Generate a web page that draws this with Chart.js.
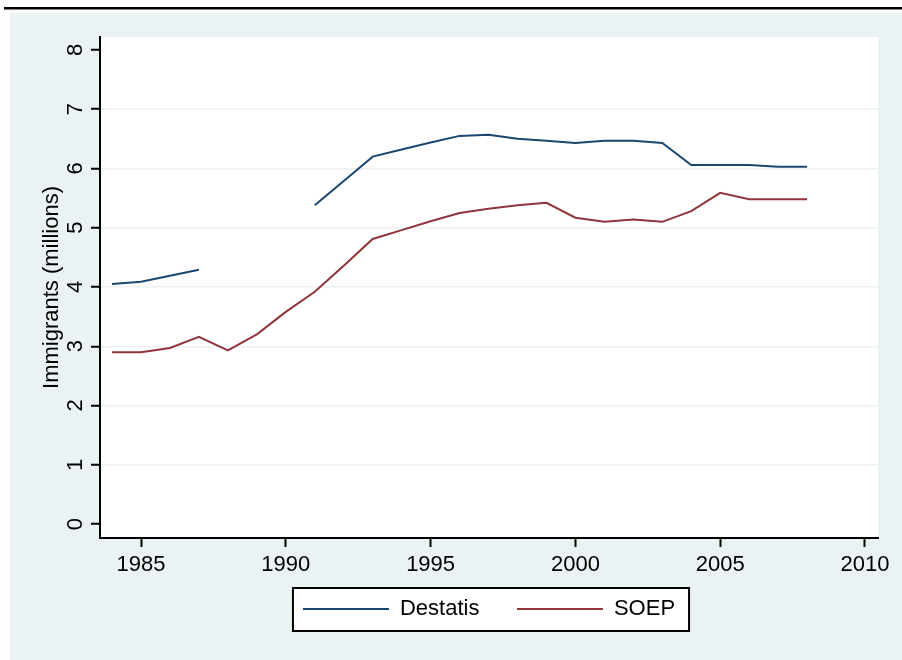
<!DOCTYPE html>
<html>
<head>
<meta charset="utf-8">
<script src="https://cdn.jsdelivr.net/npm/chart.js@4.4.1/dist/chart.umd.min.js"></script>
<style>
  html, body { margin: 0; padding: 0; background: #fff; }
  canvas { display: block; }
</style>
</head>
<body>
<canvas id="chart" width="902" height="660"></canvas>
<script>
// --- Data ---
const years = [1984, 1985, 1986, 1987, 1988, 1989, 1990, 1991, 1992, 1993, 1994, 1995, 1996,
               1997, 1998, 1999, 2000, 2001, 2002, 2003, 2004, 2005, 2006, 2007, 2008];
const destatis = [4.05, 4.09, 4.19, 4.29, null, null, null, 5.38, 5.79, 6.20, 6.32, 6.44, 6.55,
                  6.57, 6.50, 6.47, 6.43, 6.47, 6.47, 6.43, 6.06, 6.06, 6.06, 6.03, 6.03];
const soep = [2.90, 2.90, 2.97, 3.16, 2.93, 3.20, 3.58, 3.92, 4.36, 4.81, 4.96, 5.11, 5.25,
              5.32, 5.38, 5.42, 5.17, 5.10, 5.14, 5.10, 5.28, 5.59, 5.48, 5.48, 5.48];
const seriesNames = ['Destatis', 'SOEP'];
const xTicks = [1985, 1990, 1995, 2000, 2005, 2010];
const yTicks = [0, 1, 2, 3, 4, 5, 6, 7, 8];

// --- Stata s2color look ---
const BG = '#EAF2F3';
const NAVY = '#1A476F';
const MAROON = '#90353B';
const LEGEND_LIFT = 27.5; // legend sits closer to the axis than Chart.js puts it

Chart.defaults.font.family = "'Liberation Sans', Arial, sans-serif";
Chart.defaults.font.size = 22;
Chart.defaults.color = '#000';

const toPoints = values => years.map((yr, i) => ({ x: yr, y: values[i] }));

// Background panels, top rule and the framed legend box
const stataFrame = {
    id: 'stataFrame',
    afterLayout(chart) {
        const lg = chart.legend;
        if (lg) {
            lg.top -= LEGEND_LIFT;
            lg.bottom -= LEGEND_LIFT;
        }
    },
    beforeDraw(chart) {
        const { ctx, chartArea } = chart;
        ctx.save();
        ctx.fillStyle = BG;
        ctx.fillRect(10, 13, chart.width - 10, chart.height - 13);
        ctx.fillStyle = '#000';
        ctx.fillRect(4, 7, chart.width - 4, 2.5);
        ctx.fillStyle = '#fff';
        ctx.fillRect(chartArea.left, chartArea.top, chartArea.right - chartArea.left, chartArea.bottom - chartArea.top);

        const hb = chart.legend && chart.legend.legendHitBoxes;
        if (hb && hb.length) {
            const last = hb[hb.length - 1];
            const left = hb[0].left - 10;
            const right = last.left + last.width + 14;
            const cy = hb[0].top + 11;
            ctx.fillStyle = '#fff';
            ctx.fillRect(left, cy - 21, right - left, 43);
            ctx.strokeStyle = '#000';
            ctx.lineWidth = 2;
            ctx.strokeRect(left, cy - 21, right - left, 43);
        }
        ctx.restore();
    }
};

new Chart(document.getElementById('chart'), {
    type: 'line',
    data: {
        datasets: [
            {
                label: seriesNames[0],
                data: toPoints(destatis),
                borderColor: NAVY,
                backgroundColor: NAVY,
                borderWidth: 2,
                pointRadius: 0,
                tension: 0
            },
            {
                label: seriesNames[1],
                data: toPoints(soep),
                borderColor: MAROON,
                backgroundColor: MAROON,
                borderWidth: 2,
                pointRadius: 0,
                tension: 0
            }
        ]
    },
    options: {
        responsive: false,
        animation: false,
        events: [],
        layout: { padding: { left: 10, top: 37, right: 24, bottom: 2.5 } },
        plugins: {
            tooltip: { enabled: false },
            legend: {
                position: 'bottom',
                fullSize: false,
                labels: {
                    boxWidth: 86,
                    boxHeight: 0,
                    padding: 37.5,
                    font: { size: 22 },
                    color: '#000'
                }
            }
        },
        scales: {
            x: {
                type: 'linear',
                min: 1983.584,
                max: 2010.449,
                afterBuildTicks: axis => { axis.ticks = xTicks.map(v => ({ value: v })); },
                afterFit: axis => { axis.height = 50; },
                ticks: {
                    autoSkip: false,
                    minRotation: 0,
                    maxRotation: 0,
                    padding: 5,
                    callback: v => String(v)
                },
                grid: {
                    drawOnChartArea: false,
                    tickLength: 9,
                    tickWidth: 2,
                    tickColor: '#000'
                },
                border: { display: true, color: '#000', width: 2 }
            },
            y: {
                type: 'linear',
                min: -0.236,
                max: 8.219,
                afterBuildTicks: axis => { axis.ticks = yTicks.map(v => ({ value: v })); },
                afterFit: axis => { axis.width = 90; },
                ticks: {
                    minRotation: 90,
                    maxRotation: 90,
                    crossAlign: 'center',
                    padding: 9,
                    callback: v => String(v)
                },
                grid: {
                    color: ctx => (ctx.tick && ctx.tick.value > 0 && ctx.tick.value < 8) ? BG : 'rgba(0,0,0,0)',
                    lineWidth: 1.5,
                    tickLength: 9,
                    tickWidth: 2,
                    tickColor: '#000'
                },
                border: { display: true, color: '#000', width: 2 },
                title: {
                    display: true,
                    text: 'Immigrants (millions)',
                    font: { size: 22 },
                    padding: { top: 29, bottom: 0 }
                }
            }
        }
    },
    plugins: [stataFrame]
});
</script>
</body>
</html>
